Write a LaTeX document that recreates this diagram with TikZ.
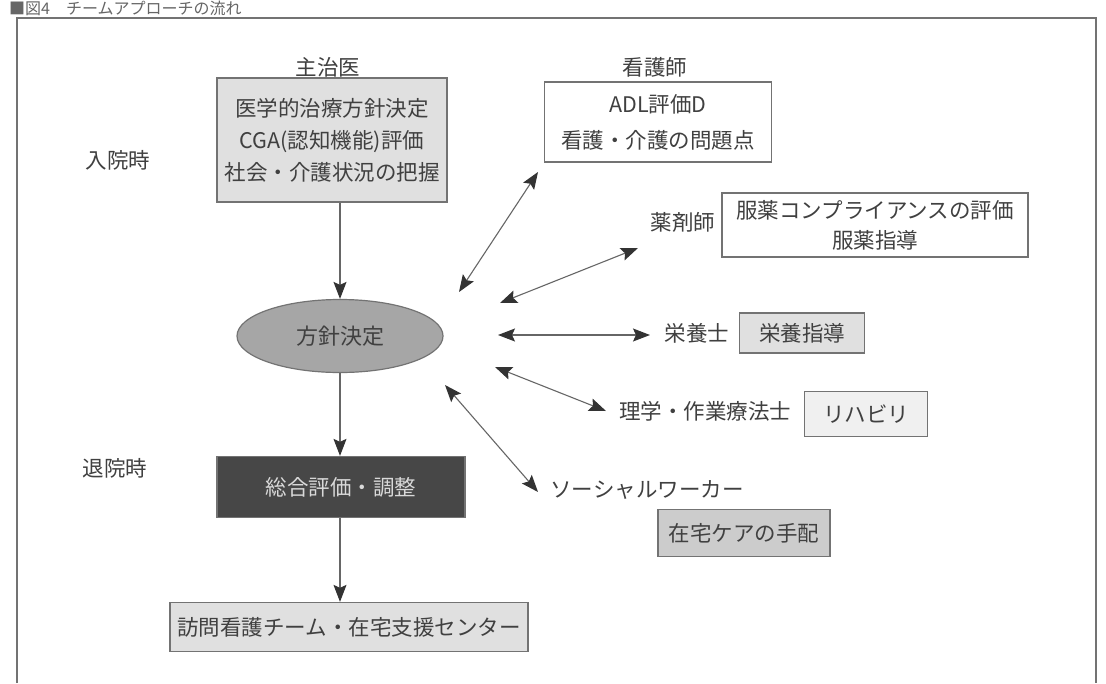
\documentclass[tikz,border=0pt]{standalone}
\usepackage{fontspec}
\newfontfamily\jp{Noto Sans CJK JP}
\usetikzlibrary{arrows.meta,shapes.geometric}
\begin{document}
\begin{tikzpicture}[x=1pt,y=-1pt,
  every node/.style={font=\jp\fontsize{21.5}{30}\selectfont, text=black!75},
  lbl/.style={inner sep=0pt},
  box/.style={draw=black!55, line width=1.3pt, align=center, inner sep=0pt},
  lightbox/.style={box, fill=black!12},
  link/.style={draw=black!60, line width=1.1pt},
  tip/.style={-{Stealth[length=17pt,width=13pt,inset=3pt,color=black!80]}},
  dtip/.style={{Stealth[length=17pt,width=13pt,inset=3pt,color=black!80]}-{Stealth[length=17pt,width=13pt,inset=3pt,color=black!80]}}
]
\useasboundingbox (0,0) rectangle (1106,683);
\fill[white] (0,0) rectangle (1106,683);
\node[lbl, anchor=west, text=black!60, font=\jp\fontsize{16}{16}\selectfont] (title) at (9,8) {■図4　チームアプローチの流れ};
\draw[black!55, line width=1.2pt] (17,683) -- (17,18) -- (1096,18) -- (1096,683);

\node[lbl] (adm) at (118,160) {入院時};
\node[lbl] (dis) at (115,468) {退院時};

\node[lbl] (docl) at (328,67) {主治医};
\node[lightbox, minimum width=230pt, minimum height=124pt, font=\jp\fontsize{21.5}{32}\selectfont] (doc) at (332,140) {医学的治療方針決定\\CGA(認知機能)評価\\社会・介護状況の把握};

\node[lbl] (nursel) at (655,67) {看護師};
\node[box, fill=white, minimum width=227pt, minimum height=80pt, font=\jp\fontsize{21.5}{36}\selectfont] (nurse) at (658,122) {ADL評価D\\看護・介護の問題点};

\node[lbl] (pharml) at (683,222) {薬剤師};
\node[box, fill=white, minimum width=306pt, minimum height=64pt, font=\jp\fontsize{21.5}{30}\selectfont] (pharm) at (875,225) {服薬コンプライアンスの評価\\服薬指導};

\node[ellipse, draw=black!55, line width=1.2pt, fill=black!35, minimum width=206pt, minimum height=73pt, inner sep=0pt, font=\jp\fontsize{22}{22}\selectfont] (plan) at (340,336) {方針決定};

\node[lbl] (dietl) at (697,333) {栄養士};
\node[lightbox, minimum width=125pt, minimum height=40pt] (diet) at (802,333) {栄養指導};

\node[lbl] (ptl) at (705,411) {理学・作業療法士};
\node[lightbox, fill=black!6, minimum width=123pt, minimum height=45pt] (pt) at (866,414) {リハビリ};

\node[box, fill=black!72, text=white!85!black, minimum width=248pt, minimum height=61pt] (eval) at (341,487) {総合評価・調整};

\node[lbl] (swl) at (647,490) {ソーシャルワーカー};
\node[lightbox, fill=black!20, minimum width=172pt, minimum height=47pt] (sw) at (744,533) {在宅ケアの手配};

\node[lightbox, minimum width=358pt, minimum height=49pt] (home) at (349,627) {訪問看護チーム・在宅支援センター};

\draw[link,tip] (doc.south -| plan.center) -- (plan.north);
\draw[link,tip] (plan.south) -- (eval.north -| plan.center);
\draw[link,tip] (eval.south -| plan.center) -- (home.north -| plan.center);

\coordinate (a1) at (459,292); \coordinate (b1) at (538,172);
\coordinate (a2) at (500,303); \coordinate (b2) at (638,248);
\coordinate (a3) at (498,335); \coordinate (b3) at (650,335);
\coordinate (a4) at (495,367); \coordinate (b4) at (606,411);
\coordinate (a5) at (445,385); \coordinate (b5) at (538,492);
\draw[link,dtip] (a1) -- (b1);
\draw[link,dtip] (a2) -- (b2);
\draw[link,dtip] (a3) -- (b3);
\draw[link,dtip] (a4) -- (b4);
\draw[link,dtip] (a5) -- (b5);
\end{tikzpicture}
\end{document}
